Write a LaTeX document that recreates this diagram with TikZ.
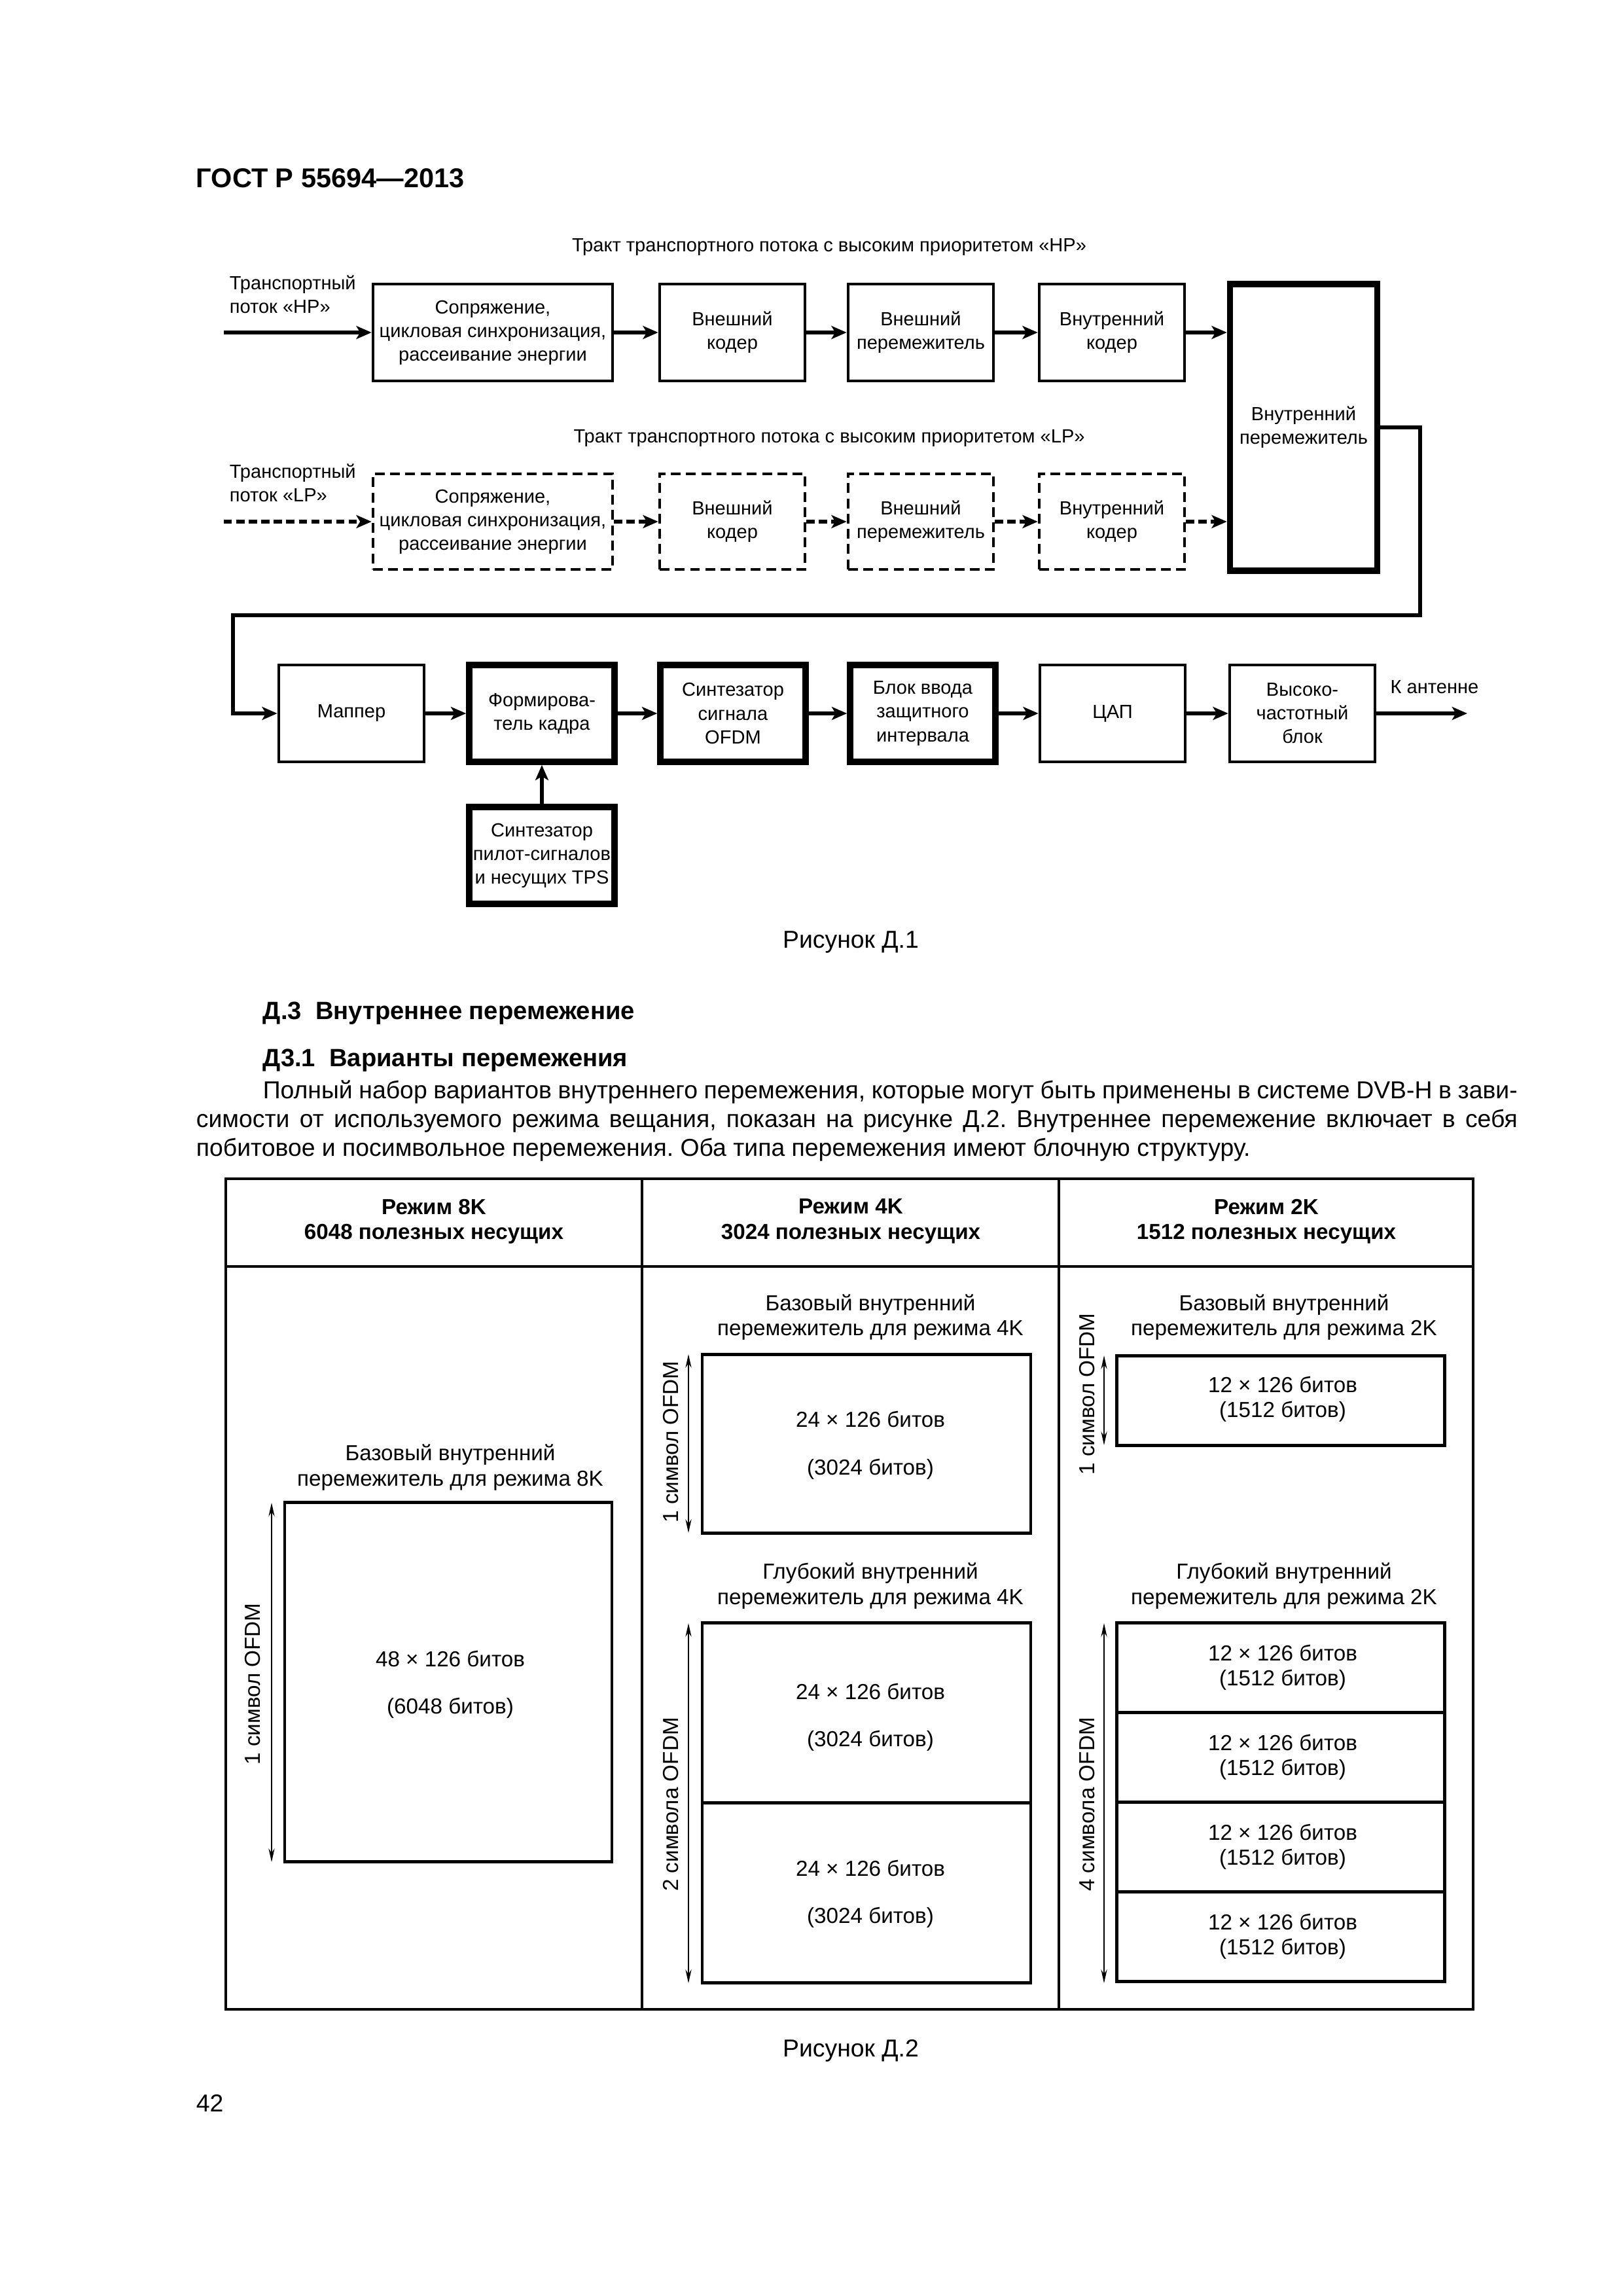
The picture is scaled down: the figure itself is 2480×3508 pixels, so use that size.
\documentclass[tikz,border=0pt]{standalone}
\usepackage{fontspec}
\setmainfont{Liberation Sans}
\usetikzlibrary{arrows.meta}
\def\PX{0.2409pt}
\newcommand\FigF{\fontsize{7}{8.7}\selectfont}
\newcommand\TabF{\fontsize{8}{9.2}\selectfont}
\newcommand\BodyF{\fontsize{9}{11}\selectfont\frenchspacing}
\begin{document}
\begin{tikzpicture}[x=0.2409pt,y=-0.2409pt,
  blk/.style={draw, line width=1.1pt, minimum width=222*\PX, minimum height=148*\PX, align=center, font=\FigF, inner sep=0pt},
  thk/.style={blk, line width=2.3pt},
  dsh/.style={blk, dash pattern=on 3.6pt off 2pt},
  arr/.style={line width=1.4pt, -{Stealth[length=5.6pt,width=4.8pt,inset=1.4pt]}},
  darr/.style={arr, dash pattern=on 3pt off 1.6pt},
  lbl/.style={font=\FigF, align=left, inner sep=0pt},
  tbl/.style={line width=1pt},
  cell/.style={draw, line width=1pt, inner sep=0pt},
  dim/.style={line width=0.5pt, {Stealth[length=5pt,width=2.2pt]}-{Stealth[length=5pt,width=2.2pt]}},
  ttx/.style={font=\TabF, align=center, inner sep=0pt},
  rtx/.style={font=\TabF, rotate=90, inner sep=0pt}]
\useasboundingbox (0,0) rectangle (2480,3508);
% header
\node[anchor=west, font=\bfseries\fontsize{10}{12}\selectfont, inner sep=0pt] (hdr) at (299,272) {ГОСТ Р 55694—2013};
% Figure D.1
\node[lbl] (thp) at (1267,378) {Тракт транспортного потока с высоким приоритетом «HP»};
\node[lbl] (tlp) at (1267,670) {Тракт транспортного потока с высоким приоритетом «LP»};
\node[lbl, anchor=west] (inhp) at (350,450) {Транспортный\\поток «HP»};
\node[lbl, anchor=west] (inlp) at (350,738) {Транспортный\\поток «LP»};
\node[blk, minimum width=366*\PX] (hp1) at (753,508) {Сопряжение,\\цикловая синхронизация,\\рассеивание энергии};
\node[blk] (hp2) at (1119,508) {Внешний\\кодер};
\node[blk] (hp3) at (1407,508) {Внешний\\перемежитель};
\node[blk] (hp4) at (1699,508) {Внутренний\\кодер};
\node[thk, minimum width=225*\PX, minimum height=438*\PX] (ilv) at (1992,653) {Внутренний\\перемежитель};
\node[dsh, minimum width=366*\PX, minimum height=146*\PX] (lp1) at (753,797) {Сопряжение,\\цикловая синхронизация,\\рассеивание энергии};
\node[dsh, minimum height=146*\PX] (lp2) at (1119,797) {Внешний\\кодер};
\node[dsh, minimum height=146*\PX] (lp3) at (1407,797) {Внешний\\перемежитель};
\node[dsh, minimum height=146*\PX] (lp4) at (1699,797) {Внутренний\\кодер};
\node[blk] (map) at (537,1090) {Маппер};
\node[thk] (frm) at (828,1090) {Формирова-\\тель кадра};
\node[thk] (ofdm) at (1120,1090) {Синтезатор\\сигнала\\OFDM};
\node[thk] (gi) at (1410,1090) {Блок ввода\\защитного\\интервала};
\node[blk] (dac) at (1700,1090) {ЦАП};
\node[blk] (rf) at (1990,1090) {Высоко-\\частотный\\блок};
\node[thk] (pil) at (828,1307) {Синтезатор\\пилот-сигналов\\и несущих TPS};
\node[lbl] (ant) at (2192,1050) {К антенне};
\coordinate (shp) at (342,508);
\coordinate (slp) at (342,797);
\coordinate (c1) at (2170,940);
\coordinate (c2) at (356,940);
\coordinate (eant) at (2242,1090);
\draw[arr] (shp) -- (hp1);
\draw[arr] (hp1) -- (hp2);
\draw[arr] (hp2) -- (hp3);
\draw[arr] (hp3) -- (hp4);
\draw[arr] (hp4.east) -- (hp4.east -| ilv.west);
\draw[darr] (slp) -- (lp1);
\draw[darr] (lp1) -- (lp2);
\draw[darr] (lp2) -- (lp3);
\draw[darr] (lp3) -- (lp4);
\draw[darr] (lp4.east) -- (lp4.east -| ilv.west);
\draw[arr] (ilv.east) -| (c1) -- (c2) |- (map.west);
\draw[arr] (map) -- (frm);
\draw[arr] (frm) -- (ofdm);
\draw[arr] (ofdm) -- (gi);
\draw[arr] (gi) -- (dac);
\draw[arr] (dac) -- (rf);
\draw[arr] (rf) -- (eant);
\draw[arr] (pil) -- (frm);
\node[font=\BodyF, inner sep=0pt] (cap1) at (1300,1440) {Рисунок Д.1};
% text
\node[anchor=west, font=\bfseries\fontsize{9.2}{11}\selectfont, inner sep=0pt] (h3) at (401,1548) {Д.3\ \ Внутреннее перемежение};
\node[anchor=west, font=\bfseries\fontsize{9.2}{11}\selectfont, inner sep=0pt] (h31) at (401,1620) {Д3.1\ \ Варианты перемежения};
\node[anchor=base west, font=\BodyF, inner sep=0pt] (p1) at (401,1678) {\makebox[461.8pt][s]{Полный набор вариантов внутреннего перемежения, которые могут быть применены в системе DVB-H в зави-}};
\node[anchor=base west, font=\BodyF, inner sep=0pt] (p2) at (299,1722) {\makebox[486.4pt][s]{симости от используемого режима вещания, показан на рисунке Д.2. Внутреннее перемежение включает в себя}};
\node[anchor=base west, font=\BodyF, inner sep=0pt] (p3) at (299,1766) {побитовое и посимвольное перемежения. Оба типа перемежения имеют блочную структуру.};
% table
\draw[tbl] (345,1801) rectangle (2251,3070);
\draw[tbl] (345,1935) -- (2251,1935);
\draw[tbl] (981,1801) -- (981,3070);
\draw[tbl] (1618,1801) -- (1618,3070);
\node[ttx, font=\bfseries\TabF] (h8) at (663,1866) {Режим 8K\\6048 полезных несущих};
\node[ttx, font=\bfseries\TabF] (h4) at (1300,1866) {Режим 4K\\3024 полезных несущих};
\node[ttx, font=\bfseries\TabF] (h2) at (1935,1866) {Режим 2K\\1512 полезных несущих};
% col 1
\node[ttx] (t8) at (688,2242) {Базовый внутренний\\перемежитель для режима 8K};
\node[cell, minimum width=500*\PX, minimum height=549*\PX] (b8) at (685,2570) {};
\node[ttx] (b8a) at (688,2534) {48 × 126 битов};
\node[ttx] (b8b) at (688,2610) {(6048 битов)};
\coordinate (d8a) at (415,2296);
\coordinate (d8b) at (415,2845);
\draw[dim] (d8a) -- (d8b);
\node[rtx] (r8) at (386,2573) {1 символ OFDM};
% col 2
\node[ttx] (t4) at (1330,2013) {Базовый внутренний\\перемежитель для режима 4K};
\node[cell, minimum width=502*\PX, minimum height=273*\PX] (b4) at (1324,2206) {};
\node[ttx] (b4a) at (1330,2168) {24 × 126 битов};
\node[ttx] (b4b) at (1330,2245) {(3024 битов)};
\coordinate (d4a) at (1052,2069);
\coordinate (d4b) at (1052,2342);
\draw[dim] (d4a) -- (d4b);
\node[rtx] (r4) at (1025,2203) {1 символ OFDM};
\node[ttx] (t4d) at (1330,2423) {Глубокий внутренний\\перемежитель для режима 4K};
\node[cell, minimum width=502*\PX, minimum height=275*\PX] (b4d1) at (1324,2617) {};
\node[cell, minimum width=502*\PX, minimum height=275*\PX] (b4d2) at (1324,2892) {};
\node[ttx] (b4c) at (1330,2584) {24 × 126 битов};
\node[ttx] (b4d) at (1330,2660) {(3024 битов)};
\node[ttx] (b4e) at (1330,2854) {24 × 126 битов};
\node[ttx] (b4f) at (1330,2930) {(3024 битов)};
\coordinate (d4c) at (1052,2480);
\coordinate (d4d) at (1052,3030);
\draw[dim] (d4c) -- (d4d);
\node[rtx] (r4d) at (1025,2757) {2 символа OFDM};
% col 3
\node[ttx] (t2) at (1962,2013) {Базовый внутренний\\перемежитель для режима 2K};
\node[cell, minimum width=501*\PX, minimum height=137*\PX] (b2) at (1957,2140) {};
\node[ttx] (b2a) at (1960,2138) {12 × 126 битов\\(1512 битов)};
\coordinate (d2a) at (1687,2071);
\coordinate (d2b) at (1687,2208);
\draw[dim] (d2a) -- (d2b);
\node[rtx] (r2) at (1661,2130) {1 символ OFDM};
\node[ttx] (t2d) at (1962,2423) {Глубокий внутренний\\перемежитель для режима 2K};
\foreach \i/\y in {1/2548,2/2685,3/2822,4/2959}{
  \node[cell, minimum width=501*\PX, minimum height=137*\PX] (b2d\i) at (1957,\y) {};
  \node[ttx] (b2t\i) at (1960,\y) {12 × 126 битов\\(1512 битов)};
}
\coordinate (d2c) at (1687,2480);
\coordinate (d2d) at (1687,3030);
\draw[dim] (d2c) -- (d2d);
\node[rtx] (r2d) at (1661,2757) {4 символа OFDM};
\node[font=\BodyF, inner sep=0pt] (cap2) at (1300,3133) {Рисунок Д.2};
\node[anchor=west, font=\BodyF, inner sep=0pt] (pg) at (299,3213) {42};
\end{tikzpicture}
\end{document}
